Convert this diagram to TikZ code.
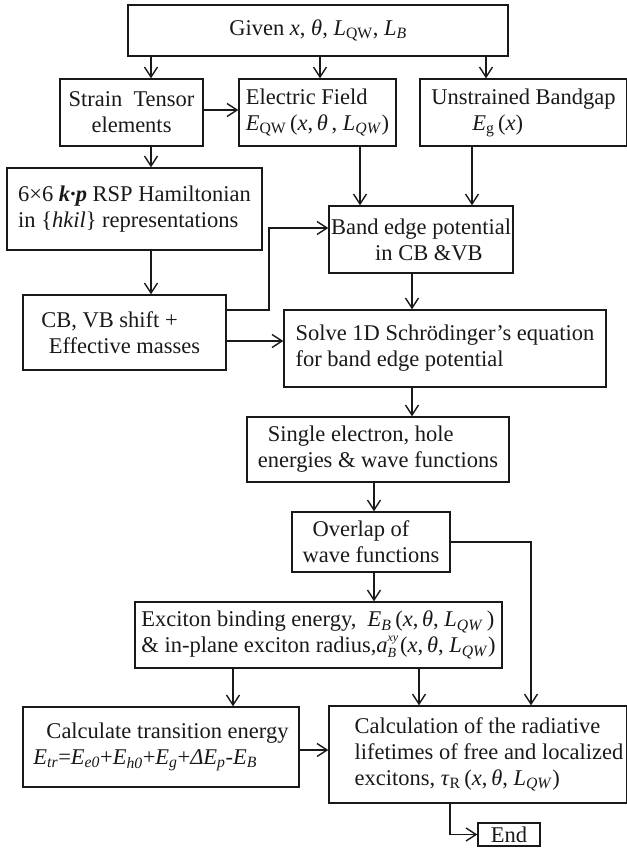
\documentclass[tikz,border=0pt]{standalone}
\usepackage{fontspec}
\setmainfont{Liberation Serif}
\usetikzlibrary{arrows.meta}
\newcommand\ti[1]{\textit{#1}}
\newcommand\sbs[1]{\textsubscript{#1}}
\begin{document}
\begin{tikzpicture}[x=1pt,y=-1pt,
  box/.style={draw=black!90, line width=1.4pt, inner sep=0pt,
    font=\fontsize{22.5}{26}\selectfont, text=black!90},
  arr/.style={draw=black!90, line width=1.4pt, -{Straight Barb[length=10pt,width=13pt]}},
  ln/.style={draw=black!90, line width=1.4pt}]
\useasboundingbox (0,0) rectangle (626,850);

% boxes
\node[box, minimum width=380pt, minimum height=51pt, align=center] (given) at (318,30.5)
  {Given \ti{x}, \ti{θ}, \ti{L}\sbs{QW}, \ti{L}\sbs{\ti{B}}};
\node[box, minimum width=143pt, minimum height=67pt, align=center] (strain) at (131.5,112.5)
  {Strain\ \ Tensor\\elements};
\node[box, minimum width=157pt, minimum height=67pt, align=left] (efield) at (317.5,112.5)
  {Electric Field\\\ti{E}\sbs{QW}\,(\ti{x},\,\ti{θ}\,, \ti{L}\sbs{\ti{QW}})};
\node[box, minimum width=207pt, minimum height=67pt, align=left] (unstr) at (523.5,112.5)
  {Unstrained Bandgap\\\hspace*{41pt}\ti{E}\sbs{g}\,(\ti{x})};
\node[box, minimum width=255pt, minimum height=82pt, align=left] (ham) at (134.5,209)
  {6×6 \textbf{\textit{k·p}} RSP Hamiltonian\\in \{\ti{hkil}\} representations};
\node[box, minimum width=203pt, minimum height=75pt, align=center] (cb) at (124.5,332.5)
  {CB, VB shift +\hspace*{30pt}\\Effective masses};
\node[box, minimum width=184pt, minimum height=67pt, align=center] (band) at (421,239.5)
  {Band edge potential\\\hspace*{16pt}in CB \&VB};
\node[box, minimum width=322pt, minimum height=77pt, align=left] (solve) at (445,348.5)
  {Solve 1D Schrödinger’s equation\\for band edge potential};
\node[box, minimum width=262pt, minimum height=65pt, align=left] (single) at (378,449.5)
  {\hspace*{10pt}Single electron, hole\\energies \& wave functions};
\node[box, minimum width=158pt, minimum height=60pt, align=left] (overlap) at (371,542)
  {\hspace*{10pt}Overlap of\\wave functions};
\node[box, minimum width=367pt, minimum height=66pt, align=left] (exciton) at (318.5,635)
  {Exciton binding energy,\ \ \ti{E}\sbs{\ti{B}}\,(\ti{x},\,\ti{θ}, \ti{L}\sbs{\ti{QW}}\,)\\
   \& in-plane exciton radius,\ti{a}\rlap{\raisebox{11.5pt}{\fontsize{12}{12}\selectfont\ti{xy}}}\raisebox{-5pt}{\fontsize{14}{14}\selectfont\ti{B}}\hspace{4pt}(\ti{x},\,\ti{θ}, \ti{L}\sbs{\ti{QW}})};
\node[box, minimum width=276pt, minimum height=80pt, align=left] (calc) at (161,747)
  {\hspace*{13pt}Calculate transition energy\\
   \ti{E}\sbs{\ti{tr}}=\ti{E}\sbs{\ti{e0}}+\ti{E}\sbs{\ti{h0}}+\ti{E}\sbs{\ti{g}}+\ti{ΔE}\sbs{\ti{p}}-\ti{E}\sbs{\ti{B}}};
\node[box, minimum width=298pt, minimum height=97pt, align=left] (life) at (478,754.5)
  {\hspace*{22pt}Calculation of the radiative\\
   \hspace*{22pt}lifetimes of free and localized\\
   \hspace*{22pt}excitons,\ \ti{τ}\sbs{R}\,(\ti{x},\,\ti{θ},\ \ti{L}\sbs{\ti{QW}})};
\node[box, minimum width=62pt, minimum height=23pt, align=center] (end) at (509,834.5) {End};

% helper coordinates
\coordinate (c151) at (151,0);
\coordinate (c320) at (320,0);
\coordinate (c486) at (486,0);
\coordinate (c360) at (360,0);
\coordinate (c472) at (472,0);
\coordinate (c412) at (412,0);
\coordinate (c374) at (374,0);
\coordinate (c233) at (233,0);
\coordinate (c419) at (419,0);
\coordinate (c531) at (531,0);
\coordinate (c450) at (450,0);
\coordinate (c269) at (269,0);
\coordinate (y110) at (0,110);
\coordinate (y310) at (0,310);
\coordinate (y228) at (0,228);
\coordinate (y341) at (0,341);
\coordinate (y542) at (0,542);
\coordinate (y750) at (0,750);
\coordinate (y834) at (0,834.5);

% connectors
\draw[arr] (given.south -| c151) -- (strain.north -| c151);
\draw[arr] (given.south -| c320) -- (efield.north -| c320);
\draw[arr] (given.south -| c486) -- (unstr.north -| c486);
\draw[arr] (strain.east |- y110) -- (efield.west |- y110);
\draw[arr] (strain.south -| c151) -- (ham.north -| c151);
\draw[arr] (ham.south -| c151) -- (cb.north -| c151);
\draw[arr] (cb.east |- y310) -- (c269 |- y310) -- (c269 |- y228) -- (band.west |- y228);
\draw[arr] (cb.east |- y341) -- (solve.west |- y341);
\draw[arr] (efield.south -| c360) -- (band.north -| c360);
\draw[arr] (unstr.south -| c472) -- (band.north -| c472);
\draw[arr] (band.south -| c412) -- (solve.north -| c412);
\draw[arr] (solve.south -| c412) -- (single.north -| c412);
\draw[arr] (single.south -| c374) -- (overlap.north -| c374);
\draw[arr] (overlap.south -| c374) -- (exciton.north -| c374);
\draw[arr] (overlap.east |- y542) -- (c531 |- y542) -- (life.north -| c531);
\draw[arr] (exciton.south -| c233) -- (calc.north -| c233);
\draw[arr] (exciton.south -| c419) -- (life.north -| c419);
\draw[arr] (calc.east |- y750) -- (life.west |- y750);
\draw[arr] (life.south -| c450) -- (c450 |- y834) -- (end.west |- y834);
\end{tikzpicture}
\end{document}
